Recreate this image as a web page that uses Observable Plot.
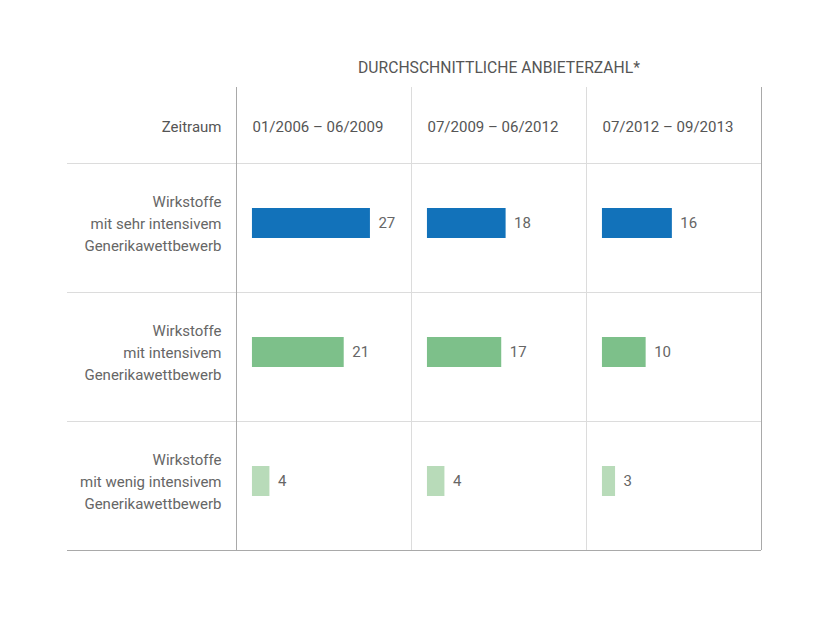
<!DOCTYPE html>
<html><head><meta charset="utf-8">
<script src="https://cdn.jsdelivr.net/npm/d3@7"></script>
<script src="https://cdn.jsdelivr.net/npm/@observablehq/plot@0.6"></script>
<style>body{margin:0;background:#fff;}</style>
</head><body><div id="chart"></div>
<script>
const title = "DURCHSCHNITTLICHE ANBIETERZAHL*";
const headerLabel = "Zeitraum";
const periods = ["01/2006 – 06/2009", "07/2009 – 06/2012", "07/2012 – 09/2013"];
const categories = [
  "Wirkstoffe\nmit sehr intensivem\nGenerikawettbewerb",
  "Wirkstoffe\nmit intensivem\nGenerikawettbewerb",
  "Wirkstoffe\nmit wenig intensivem\nGenerikawettbewerb"
];
const sehrIntensiv = [27, 18, 16];
const intensiv = [21, 17, 10];
const wenigIntensiv = [4, 4, 3];
const seriesValues = [sehrIntensiv, intensiv, wenigIntensiv];
const colors = ["#1272ba", "#7dc08a", "#b8dbb9"];

const data = categories.flatMap((c, i) => periods.map((p, j) => ({category: c, period: p, value: seriesValues[i][j]})));
const cells = d3.cross(periods, categories, (period, category) => ({period, category}));
const xDomain = [-3.65, 36.4];
const light = "#dcdcdc", dark = "#a9a9a9", textColor = "#666";

const first = cells.filter(d => d.period === periods[0]);
const rest = cells.filter(d => d.period !== periods[0]);
const lastCol = cells.filter(d => d.period === periods[2]);
const bottomRow = cells.filter(d => d.category === categories[2]);

const plot = Plot.plot({
  width: 831, height: 624,
  marginTop: 163, marginBottom: 74, marginLeft: 235, marginRight: 70,
  style: {fontFamily: "Roboto, sans-serif", fontSize: "15px", color: textColor, background: "#fff"},
  fx: {domain: periods, padding: 0, axis: null},
  fy: {domain: categories, padding: 0, axis: null},
  x: {domain: xDomain, axis: null},
  y: {domain: [0, 1], axis: null},
  color: {domain: categories, range: colors},
  marks: [
    // light grid
    Plot.ruleY(rest, {y: () => 1, fx: "period", fy: "category", stroke: light}),
    Plot.ruleY(first, {y: () => 1, fx: "period", fy: "category", stroke: light, insetLeft: -169}),
    Plot.ruleX(rest, {x: () => xDomain[0], fx: "period", fy: "category", stroke: light, insetTop: -76}),
    // dark borders
    Plot.ruleX(first, {x: () => xDomain[0], fx: "period", fy: "category", stroke: dark, insetTop: -76}),
    Plot.ruleX(lastCol, {x: () => xDomain[1], fx: "period", fy: "category", stroke: dark, insetTop: -76}),
    Plot.ruleY(bottomRow.filter(d => d.period !== periods[0]), {y: () => 0, fx: "period", fy: "category", stroke: dark}),
    Plot.ruleY(bottomRow.filter(d => d.period === periods[0]), {y: () => 0, fx: "period", fy: "category", stroke: dark, insetLeft: -169}),
    // bars
    Plot.barX(data, {x: "value", fx: "period", fy: "category", fill: "category", insetTop: 45, insetBottom: 54}),
    Plot.text(data, {x: "value", fx: "period", fy: "category", text: d => String(d.value), frameAnchor: "top", lineAnchor: "middle", dy: 60, dx: 8, textAnchor: "start", fill: textColor}),
    // row labels
    Plot.text(categories, {fx: () => periods[0], fy: d => d, text: d => d, frameAnchor: "top-left", lineAnchor: "middle", dx: -15, dy: 58, textAnchor: "end", lineHeight: 1.47, fill: textColor}),
    // column headers
    Plot.text(periods, {fx: d => d, fy: () => categories[0], text: d => d, frameAnchor: "top-left", lineAnchor: "middle", dx: 16, dy: -36, textAnchor: "start", fill: "#555"}),
    Plot.text([headerLabel], {fx: () => periods[0], fy: () => categories[0], text: d => d, frameAnchor: "top-left", lineAnchor: "middle", dx: -15, dy: -36, textAnchor: "end", fill: "#555"}),
    // title
    Plot.text([title], {fx: () => periods[1], fy: () => categories[0], text: d => d, frameAnchor: "top", lineAnchor: "middle", dy: -96, fontSize: 15.7, fill: "#555"})
  ]
});
document.getElementById("chart").append(plot);
</script>
</body></html>
